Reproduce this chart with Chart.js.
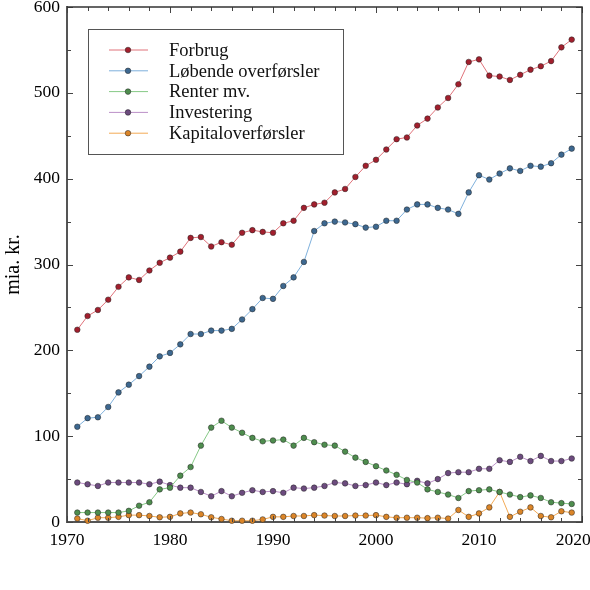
<!DOCTYPE html>
<html>
<head>
<meta charset="utf-8">
<script src="https://cdn.jsdelivr.net/npm/chart.js@4.4.1/dist/chart.umd.min.js"></script>
<style>
html, body { margin: 0; padding: 0; background: #fff; }
</style>
</head>
<body>
<canvas id="chart" width="590" height="590"></canvas>
<script>
const chartElm = document.getElementById('chart');

// years on the x axis, one point per year
var years = []
for (let y = 1971; y <= 2019; y++) years.push(y)

var seriesNames = ['Forbrug', 'Løbende overførsler', 'Renter mv.', 'Investering', 'Kapitaloverførsler']

var forbrug = [224, 240, 247, 259, 274, 285, 282, 293, 302, 308,
    315, 331, 332, 321, 326, 323, 337, 340, 338, 337,
    348, 351, 366, 370, 372, 384, 388, 402, 415, 422,
    434, 446, 448, 462, 470, 483, 494, 510, 536, 539,
    520, 519, 515, 521, 527, 531, 537, 553, 562]

var loebende = [111, 121, 122, 134, 151, 160, 170, 181, 193, 197,
    207, 219, 219, 223, 223, 225, 236, 248, 261, 260,
    275, 285, 303, 339, 348, 350, 349, 347, 343, 344,
    351, 351, 364, 370, 370, 366, 364, 359, 384, 404,
    399, 406, 412, 409, 415, 414, 418, 428, 435]

var renter = [11, 11, 11, 11, 11, 13, 19, 23, 38, 40,
    54, 64, 89, 110, 118, 110, 104, 98, 94, 95,
    96, 89, 98, 93, 90, 89, 82, 75, 70, 65,
    60, 55, 49, 46, 38, 35, 32, 28, 36, 37,
    38, 35, 32, 29, 31, 28, 23, 22, 21]

var investering = [46, 44, 42, 46, 46, 46, 46, 44, 47, 43,
    40, 40, 35, 30, 36, 30, 34, 37, 35, 36,
    34, 40, 39, 40, 42, 46, 45, 42, 43, 46,
    43, 46, 44, 48, 45, 50, 57, 58, 58, 62,
    62, 72, 70, 76, 71, 77, 71, 71, 74]

var kapital = [4, 1.5, 5, 5, 6, 8, 8, 7, 5.5, 6,
    10, 11, 9, 5.5, 3.5, 1.5, 1.5, 1.5, 3, 6,
    6, 7, 7, 8, 7.5, 7, 7, 7.5, 7.5, 8,
    6, 5, 5, 5, 4.5, 5, 4, 14, 6, 10,
    17, 35, 6, 12, 17, 7, 5.5, 12.5, 11]

var xTicks = [1970, 1980, 1990, 2000, 2010, 2020]
var yTicks = [0, 100, 200, 300, 400, 500, 600]

var lineColors = ['#e0727a', '#7eb0dc', '#86c986', '#bb90c8', '#f3aa55']
var markColors = ['#a21f2d', '#3d6890', '#4e8d4e', '#6c4b7e', '#db8528']

var font = 'Liberation Serif'

var allSeries = [forbrug, loebende, renter, investering, kapital]

var datasets = allSeries.map((s, i) => ({
    label: seriesNames[i],
    data: s.map((v, j) => ({ x: years[j], y: v })),
    borderColor: lineColors[i],
    borderWidth: 1,
    pointBackgroundColor: markColors[i],
    pointBorderColor: '#222',
    pointBorderWidth: 0.5,
    pointRadius: 2.8,
    tension: 0,
    clip: false
}))

// frame on top and right, and small ticks pointing into the plot
const frameTicks = {
    id: 'frameTicks',
    afterDatasetsDraw(chart) {
        const ctx = chart.ctx
        const a = chart.chartArea
        const x = chart.scales.x
        const y = chart.scales.y
        ctx.save()
        ctx.strokeStyle = '#444'
        ctx.lineWidth = 1
        ctx.beginPath()
        for (let v = xTicks[0]; v <= xTicks[xTicks.length - 1]; v += 2) {
            const px = Math.round(x.getPixelForValue(v)) + 0.5
            const len = v % 10 == 0 ? 6 : 4
            ctx.moveTo(px, a.bottom); ctx.lineTo(px, a.bottom - len)
            ctx.moveTo(px, a.top); ctx.lineTo(px, a.top + len)
        }
        for (let v = yTicks[0]; v <= yTicks[yTicks.length - 1]; v += 50) {
            const py = Math.round(y.getPixelForValue(v)) + 0.5
            const len = v % 100 == 0 ? 6 : 4
            ctx.moveTo(a.left, py); ctx.lineTo(a.left + len, py)
            ctx.moveTo(a.right, py); ctx.lineTo(a.right - len, py)
        }
        ctx.stroke()
        ctx.lineWidth = 1.5
        ctx.strokeStyle = '#333'
        ctx.beginPath()
        ctx.moveTo(a.left, a.top); ctx.lineTo(a.right, a.top); ctx.lineTo(a.right, a.bottom)
        ctx.stroke()
        ctx.restore()
    }
}

// legend box inside the plot, line with a dot for each series
const boxLegend = {
    id: 'boxLegend',
    afterDraw(chart) {
        const ctx = chart.ctx
        const a = chart.chartArea
        const left = a.left + 21
        const top = a.top + 22
        const w = 255
        const h = 125
        ctx.save()
        ctx.fillStyle = '#fff'
        ctx.fillRect(left, top, w, h)
        ctx.strokeStyle = '#555'
        ctx.lineWidth = 1
        ctx.strokeRect(left + 0.5, top + 0.5, w, h)
        ctx.font = '18.5px "' + font + '"'
        ctx.textBaseline = 'middle'
        ctx.fillStyle = '#111'
        chart.data.datasets.forEach((ds, i) => {
            const cy = top + 21 + i * 20.8
            ctx.strokeStyle = ds.borderColor
            ctx.lineWidth = 1
            ctx.beginPath()
            ctx.moveTo(left + 21, cy); ctx.lineTo(left + 60, cy)
            ctx.stroke()
            ctx.beginPath()
            ctx.arc(left + 40, cy, 2.8, 0, Math.PI * 2)
            ctx.fillStyle = ds.pointBackgroundColor
            ctx.fill()
            ctx.strokeStyle = '#222'
            ctx.lineWidth = 0.5
            ctx.stroke()
            ctx.fillStyle = '#111'
            ctx.fillText(ds.label, left + 81, cy + 1)
        })
        ctx.restore()
    }
}

new Chart(chartElm, {
    type: 'line',
    data: { datasets: datasets },
    plugins: [frameTicks, boxLegend],
    options: {
        responsive: false,
        animation: false,
        layout: { padding: { left: 0, right: 8, top: 7, bottom: 38 } },
        plugins: {
            legend: { display: false },
            tooltip: { enabled: false }
        },
        scales: {
            x: {
                type: 'linear',
                min: xTicks[0],
                max: xTicks[xTicks.length - 1],
                afterBuildTicks: s => { s.ticks = xTicks.map(v => ({ value: v })) },
                afterFit: s => { s.height = 30; s.paddingLeft = 0; s.paddingRight = 0 },
                grid: { drawOnChartArea: false, drawTicks: false },
                border: { display: true, color: '#555', width: 2 },
                ticks: {
                    padding: 8,
                    color: '#000',
                    font: { family: font, size: 17.5 },
                    maxRotation: 0,
                    autoSkip: false,
                    // last label sits at the right edge, pad it so it stays inside
                    callback: v => v == 2020 ? '2020\u2002\u2002' : String(v)
                }
            },
            y: {
                min: yTicks[0],
                max: yTicks[yTicks.length - 1],
                afterBuildTicks: s => { s.ticks = yTicks.map(v => ({ value: v })) },
                afterFit: s => { s.width = 67; s.paddingTop = 0; s.paddingBottom = 0 },
                grid: { drawOnChartArea: false, drawTicks: false },
                border: { display: true, color: '#555', width: 2 },
                title: {
                    display: true,
                    text: 'mia. kr.',
                    color: '#000',
                    font: { family: font, size: 20 },
                    padding: { top: 2, bottom: 2 }
                },
                ticks: {
                    padding: 7,
                    color: '#000',
                    font: { family: font, size: 17.5 }
                }
            }
        }
    }
});
</script>
</body>
</html>
